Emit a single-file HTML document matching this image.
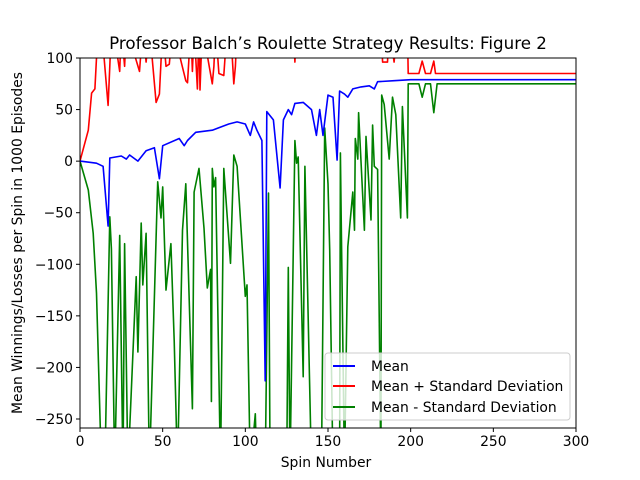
<!DOCTYPE html>
<html><head><meta charset="utf-8"><style>
html,body{margin:0;padding:0;background:#fff;}
svg{display:block;font-family:"DejaVu Sans","Liberation Sans",sans-serif;}
</style></head><body>
<svg id="chart" width="640" height="480" viewBox="0 0 640 480">
<defs><clipPath id="plotclip"><rect x="80" y="58" width="496" height="370"/></clipPath></defs>
<rect x="0" y="0" width="640" height="480" fill="#fff"/>
<text x="328" y="49" text-anchor="middle" font-size="16.7">Professor Balch’s Roulette Strategy Results: Figure 2</text>
<g id="series" clip-path="url(#plotclip)"></g>
<rect x="80" y="58" width="496" height="370" fill="none" stroke="#000" stroke-width="1"/>
<g id="axes"></g>
<text x="326" y="467" text-anchor="middle" font-size="13.9">Spin Number</text>
<text transform="translate(22,243) rotate(-90)" text-anchor="middle" font-size="13.9">Mean Winnings/Losses per Spin in 1000 Episodes</text>
<g>
<rect x="325" y="353" width="245" height="67" rx="3" fill="#fff" fill-opacity="0.8" stroke="#ccc"/>
<line x1="333" y1="366" x2="355" y2="366" stroke="blue" stroke-width="2"/>
<text x="371" y="371" font-size="13.9">Mean</text>
<line x1="333" y1="386" x2="355" y2="386" stroke="red" stroke-width="2"/>
<text x="371" y="391" font-size="13.9">Mean + Standard Deviation</text>
<line x1="333" y1="407" x2="355" y2="407" stroke="green" stroke-width="2"/>
<text x="371" y="412" font-size="13.9">Mean - Standard Deviation</text>
</g>
</svg>
<script>
const xTicks = [0, 50, 100, 150, 200, 250, 300];
const yTicks = [100, 50, 0, -50, -100, -150, -200, -250];
const meanX = [0,10,14,17,18,25,28,30,35,40,45,48,50,60,63,65,70,80,90,95,100,103,105,107,110,112,113,117,121,123,126,128,130,135,140,143,145,147,150,153,155.5,157,160,162,165,170,175,178,180,190,200,300];
const meanY = [0,-2,-5,-63,3,5,2,6,0,10,13,-17,15,22,15,20,28,30,36,38,36,25,38,30,20,-213,48,40,-26,40,50,45,56,57,50,25,50,25,64,62,1,68,65,62,70,72,73,70,77,78,79,79];
const upperX = [0,5,7,9,10,13,17,18,19,20,24,25,27,28,36,38,40,42,46,48,50,52,54,56,64,65,67,68,69,71,72,72.6,74,80,81,82,84,87,89,91,93,94,95,129,130,131,182,183,186,187,190,192,198,198.5,205,207,209,212,214,215,300];
const upperY = [0,30,66,70,100,130,54,92,130,130,87,130,92,130,87,130,96,130,57,65,130,92,94,130,78,76,130,87,130,70,130,69,130,75,92,130,85,83,130,130,75,92,130,130,96,130,130,96,96,130,96,130,130,85,85,97,85,85,97,85,85];
const lowerX = [0,5,8,10,13,15,18,19,21,24,26,27,29,34,35,37,38,40,42,47,49,50,52,55,57,59,62,64,68,69,72,75,77,79,79.5,80,81,82,85,87,91,93,95,100,101,103,106,107,112,114,115,125,126,127,130,131,132,135,136,140,146,148,150,151,153,157,157.5,158,160,162,165,166,166.5,168,168.5,172,173,176,177,178,180,182,182.5,184,187,189,191,194,195,198,198.5,205,207,209,212,214,216,300];
const lowerY = [0,-28,-70,-128,-300,-300,-54,-85,-300,-72,-300,-80,-300,-112,-185,-60,-120,-70,-300,-20,-55,-25,-125,-80,-174,-300,-67,-22,-240,-30,-7,-65,-123,-105,-233,-7,-25,-16,-300,-7,-99,6,-5,-131,-120,-300,-245,-300,-300,-31,-300,-300,-103,-300,20,-2,4,-209,-5,-300,-300,32,-22,-86,-300,-300,8,-55,-300,-83,-30,-67,22,2,47,-67,24,-57,35,-5,-8,-300,64,55,2,62,45,-55,53,-55,75,75,62,75,75,47,75,75];

const NS = 'http://www.w3.org/2000/svg';
const L = 80, R = 576, T = 58, B = 428;
const yTop = 100, yPerPx = 350 / 361;
function sx(v) { return L + (v / 300) * (R - L); }
function sy(v) { return T + (yTop - v) / yPerPx; }
function mk(tag, attrs, parent) {
  const e = document.createElementNS(NS, tag);
  for (const k in attrs) e.setAttribute(k, attrs[k]);
  parent.appendChild(e);
  return e;
}
const axes = document.getElementById('axes');
xTicks.forEach(t => {
  const l = mk('line', {x1: sx(t), x2: sx(t), y1: B, y2: B + 4, stroke: '#000'}, axes);
  
  
  const tx = mk('text', {x: sx(t), y: B + 18, 'text-anchor': 'middle', 'font-size': 13.9}, axes);
  tx.textContent = t;
  
  
});
yTicks.forEach(t => {
  const l = mk('line', {x1: L - 4, x2: L, y1: sy(t), y2: sy(t), stroke: '#000'}, axes);
  
  
  const tx = mk('text', {x: L - 7, y: sy(t) + 5, 'text-anchor': 'end', 'font-size': 13.9}, axes);
  tx.textContent = String(t).replace('-', '\u2212');
  
  
});
const series = document.getElementById('series');
function draw(xs, ys, color, name) {
  const d = xs.map((x, i) => (i ? 'L' : 'M') + sx(x).toFixed(1) + ',' + sy(ys[i]).toFixed(1)).join(' ');
  const p = mk('path', {d: d, fill: 'none', stroke: color, 'stroke-width': 1.6, 'stroke-linejoin': 'round'}, series);
  
  
}
draw(lowerX, lowerY, 'green', 'mean-minus-std-line');
draw(upperX, upperY, 'red', 'mean-plus-std-line');
draw(meanX, meanY, 'blue', 'mean-line');
</script>
</body></html>
